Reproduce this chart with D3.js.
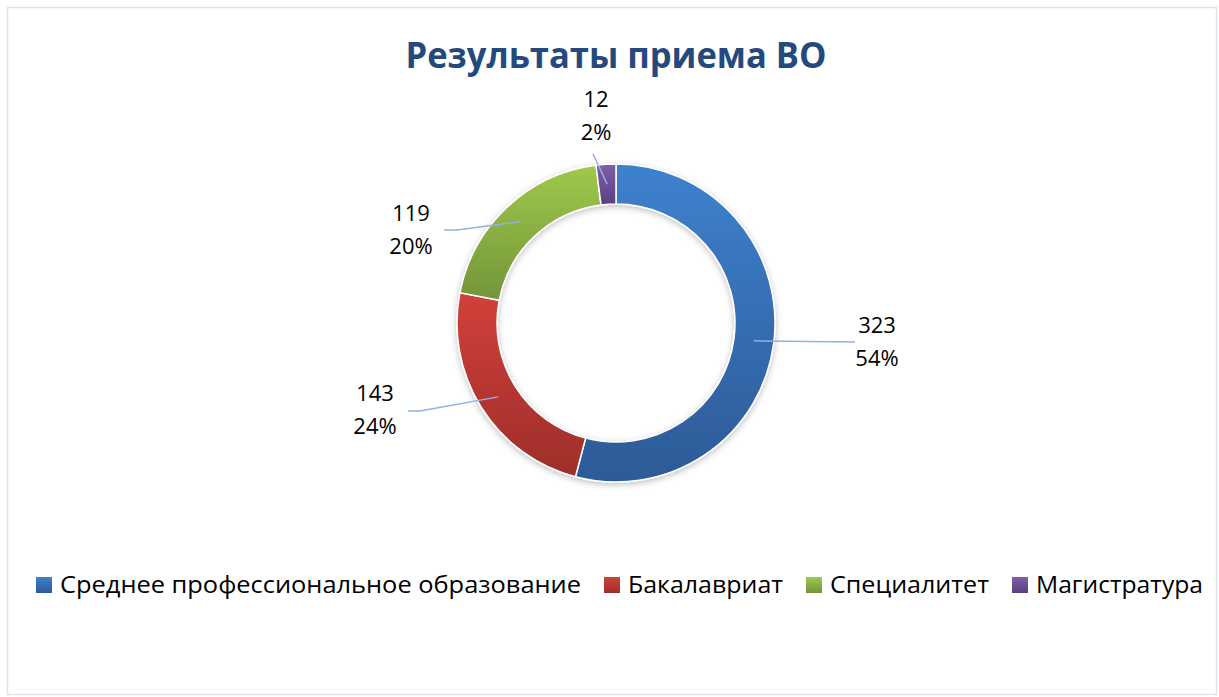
<!DOCTYPE html>
<html><head><meta charset="utf-8">
<script src="https://cdn.jsdelivr.net/npm/d3@7"></script>
<style>html,body{margin:0;padding:0;background:#fff;}svg{display:block;}</style>
</head><body>
<svg id="c" width="1219" height="697"></svg>
<script>
const title = "Результаты приема ВО";
const categories = ["Среднее профессиональное образование", "Бакалавриат", "Специалитет", "Магистратура"];
const values = [323, 143, 119, 12];
const percents = ["54%", "24%", "20%", "2%"];
const colorsLight = ["#3E81CE", "#D3403B", "#A0C84B", "#7F5EA9"];
const colorsDark = ["#2D5A96", "#9C2E2A", "#73953A", "#5A4080"];

const svg = d3.select("#c");
const W = 1219, H = 697;
const font = "'Open Sans', 'Noto Sans', sans-serif";

// border
svg.append("rect").attr("x", 7.5).attr("y", 7.5).attr("width", W - 10).attr("height", H - 10)
  .attr("fill", "#fff").attr("stroke", "#DAE5F4").attr("stroke-width", 1.5);

const defs = svg.append("defs");
categories.forEach((c, i) => {
  const g = defs.append("linearGradient").attr("id", "g" + i).attr("x1", 0).attr("y1", 0).attr("x2", 0).attr("y2", 1);
  g.append("stop").attr("offset", "0%").attr("stop-color", colorsLight[i]);
  g.append("stop").attr("offset", "100%").attr("stop-color", colorsDark[i]);
});
const f = defs.append("filter").attr("id", "sh").attr("x", "-20%").attr("y", "-20%").attr("width", "140%").attr("height", "140%");
f.append("feDropShadow").attr("dx", 0).attr("dy", 2).attr("stdDeviation", 3).attr("flood-color", "#000").attr("flood-opacity", 0.25);

// title
svg.append("text").attr("x", 616).attr("y", 68).attr("text-anchor", "middle")
  .attr("font-family", font).attr("font-weight", 700).attr("font-size", 36)
  .attr("fill", "#24497C").attr("textLength", 421).attr("lengthAdjust", "spacingAndGlyphs").text(title);

const cx = 616, cy = 323, R = 159, r = 119;
const pie = d3.pie().sort(null).value(d => d)(values);
const arc = d3.arc().innerRadius(r).outerRadius(R);
const g = svg.append("g").attr("transform", `translate(${cx},${cy})`);
g.append("g").attr("filter", "url(#sh)").selectAll("path").data(pie).join("path")
  .attr("d", arc).attr("fill", (d, i) => `url(#g${i})`)
  .attr("stroke", "#fff").attr("stroke-width", 1.5);

// labels: offsets of label centre from chart centre, and leader elbow offsets (layout only)
const labelOffset = [[261, 20], [-241, 88], [-205, -92], [-20, -206]];
const leaderEnd = [[239, 19], [-208, 88], [-172, -93], [-23, -169]];
const leaderElbow = [[null], [-196, 88], [-159, -93], [null]];
const lineGen = d3.line();
pie.forEach((d, i) => {
  const c = arc.centroid(d);
  const pts = [c];
  if (leaderElbow[i][0] !== null) pts.push(leaderElbow[i]);
  pts.push(leaderEnd[i]);
  g.append("path").attr("d", lineGen(pts)).attr("fill", "none").attr("stroke", "#8DB4E2").attr("stroke-width", 1.5);
  const t = g.append("text").attr("text-anchor", "middle").attr("font-family", font).attr("font-size", 22).attr("fill", "#000");
  t.append("tspan").attr("x", labelOffset[i][0]).attr("y", labelOffset[i][1] - 10).text(values[i]);
  t.append("tspan").attr("x", labelOffset[i][0]).attr("y", labelOffset[i][1] + 23).text(percents[i]);
});

// legend
const legendX = [36, 604, 806, 1012];
const legendW = [521, 155, 159, 167];
const lg = svg.append("g");
categories.forEach((c, i) => {
  lg.append("rect").attr("x", legendX[i]).attr("y", 577).attr("width", 16).attr("height", 16).attr("fill", `url(#g${i})`);
  lg.append("text").attr("x", legendX[i] + 24).attr("y", 593).attr("font-family", font).attr("font-size", 23)
    .attr("fill", "#000").attr("textLength", legendW[i]).attr("lengthAdjust", "spacingAndGlyphs").text(c);
});
</script>
</body></html>
